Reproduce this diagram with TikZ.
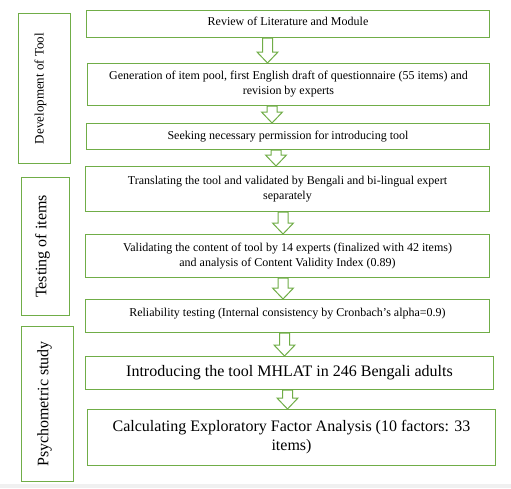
\documentclass[tikz,border=0pt]{standalone}
\usepackage{fontspec}
\setmainfont{Liberation Serif}
\usetikzlibrary{calc}
\definecolor{grn}{HTML}{70AD47}
\definecolor{strip}{HTML}{F0F0F0}
\newcommand\blkarrow[3]{%
  \draw[blk] let \p1=(#1.south), \p2=(#2.north) in
    (#3pt-5pt,\y1) -- (#3pt-5pt,\y2+11pt) -- (#3pt-10.5pt,\y2+11pt) -- (#3pt,\y2)
    -- (#3pt+10.5pt,\y2+11pt) -- (#3pt+5pt,\y2+11pt) -- (#3pt+5pt,\y1) -- cycle;}
\begin{document}
\begin{tikzpicture}[x=1pt,y=-1pt,
  box/.style={draw=grn, line width=1pt, fill=white, anchor=north west, inner sep=0pt,
    align=center, font=\fontsize{12}{15}\selectfont},
  bigbox/.style={box, font=\fontsize{16}{19}\selectfont},
  side/.style={draw=grn, line width=1pt, anchor=north west, inner sep=0pt},
  sidelabel/.style={rotate=90, inner sep=0pt},
  blk/.style={draw=grn, line width=1pt, fill=white, line join=miter}]
\useasboundingbox (0,0) rectangle (511,488);
\fill[white] (0,0) rectangle (511,488);
\fill[strip] (0,484) rectangle (511,488);

% side boxes
\node[side, minimum width=52pt, minimum height=150pt] (s1) at (18,13) {};
\node[side, minimum width=48pt, minimum height=138pt] (s2) at (21,177) {};
\node[side, minimum width=52pt, minimum height=155pt] (s3) at (21,326) {};
\node[sidelabel, font=\fontsize{13}{15}\selectfont] (l1) at ($(s1.center)+(-4,0)$) {Development of Tool};
\node[sidelabel, font=\fontsize{16}{19}\selectfont] (l2) at ($(s2.center)+(-3,0)$) {Testing of items};
\node[sidelabel, font=\fontsize{16}{19}\selectfont] (l3) at ($(s3.center)+(-3,0)$) {Psychometric study};

% main boxes
\node[box, minimum width=403pt, minimum height=27pt, text height=8pt, text depth=5pt] (r1) at (86,10) {Review of Literature and Module};
\node[box, minimum width=402pt, minimum height=42pt] (r2) at (87,63) {Generation of item pool, first English draft of questionnaire (55 items) and\\revision by experts};
\node[box, minimum width=403pt, minimum height=26pt] (r3) at (86,123) {Seeking necessary permission for introducing tool};
\node[box, minimum width=404pt, minimum height=45pt] (r4) at (85,166) {Translating the tool and validated by Bengali and bi-lingual expert\\separately};
\node[box, minimum width=404pt, minimum height=43pt] (r5) at (85,234) {Validating the content of tool by 14 experts (finalized with 42 items)\\and analysis of Content Validity Index (0.89)};
\node[box, minimum width=404pt, minimum height=33pt, text height=8pt, text depth=8pt] (r6) at (85,299) {Reliability testing (Internal consistency by Cronbach’s alpha=0.9)};
\node[bigbox, minimum width=408pt, minimum height=33pt] (r7) at (85,356) {Introducing the tool MHLAT in 246 Bengali adults};
\node[bigbox, minimum width=408pt, minimum height=56pt] (r8) at (87,409) {Calculating Exploratory Factor Analysis (10 factors: 33\\items)};

% block arrows
\blkarrow{r1}{r2}{267.5}
\blkarrow{r2}{r3}{272}
\blkarrow{r3}{r4}{276}
\blkarrow{r4}{r5}{283}
\blkarrow{r5}{r6}{283}
\blkarrow{r6}{r7}{284.5}
\blkarrow{r7}{r8}{287.5}
\end{tikzpicture}
\end{document}
